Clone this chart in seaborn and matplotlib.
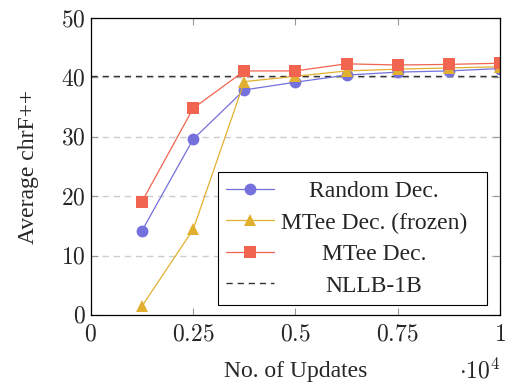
import pandas as pd
import matplotlib.pyplot as plt
import seaborn as sns
from matplotlib.lines import Line2D

updates = [0.125, 0.25, 0.375, 0.5, 0.625, 0.75, 0.875, 1.0]
random_dec = [14.2, 29.6, 37.9, 39.2, 40.4, 40.9, 41.1, 41.5]
mtee_frozen = [1.5, 14.4, 39.3, 40.2, 41.1, 41.4, 41.6, 41.8]
mtee_dec = [19.1, 34.8, 41.1, 41.1, 42.3, 42.1, 42.2, 42.4]
nllb = 40.2
series_names = ["Random Dec.", "MTee Dec. (frozen)", "MTee Dec."]
baseline_name = "NLLB-1B"

sns.set_style("white")
plt.rcParams['font.family'] = ['Liberation Serif', 'DejaVu Serif']
plt.rcParams['mathtext.fontset'] = 'cm'

df = pd.DataFrame({
    "updates": updates * 3,
    "chrf": random_dec + mtee_frozen + mtee_dec,
    "model": [n for n in series_names for _ in updates],
})

colors = {"Random Dec.": "#7470dc", "MTee Dec. (frozen)": "#e2b030", "MTee Dec.": "#f06450"}
markers = {"Random Dec.": "o", "MTee Dec. (frozen)": "^", "MTee Dec.": "s"}
dash = (0, (4.5, 3.5))

fig = plt.figure(figsize=(5.05, 3.85), dpi=100)
ax = fig.add_axes([0.180, 0.182, 0.810, 0.771])

for y in [10, 20, 30, 40]:
    ax.axhline(y, color="#cccccc", lw=1, ls=dash, zorder=0)

sns.lineplot(data=df, x="updates", y="chrf", hue="model", style="model",
             palette=colors, markers=markers, dashes=False, markersize=8.5,
             markeredgewidth=0, linewidth=0.9, ax=ax, legend=False)
ax.axhline(nllb, color="#333333", lw=1, ls=dash, zorder=1)

handles = [Line2D([], [], color=colors[n], marker=markers[n], markersize=8.5,
                  markeredgewidth=0, lw=0.9) for n in series_names]
handles.append(Line2D([], [], color="#333333", lw=1, ls=dash))
labels = series_names + [baseline_name]
# the hidden labels get extra room on the right, like the reference box
padded = [l + "  " if l == max(labels, key=len) else l for l in labels]
leg = ax.legend(handles, padded, loc="lower right",
                bbox_to_anchor=(0.968, 0.034), fontsize=17, frameon=True,
                fancybox=False, edgecolor="black", framealpha=1,
                handlelength=2.0, handletextpad=0.3, borderpad=0.35,
                borderaxespad=0, labelspacing=0.42)
leg.get_frame().set_linewidth(0.8)

ax.set_xlim(0, 1)
ax.set_ylim(0, 50)
ax.set_xticks([0, 0.25, 0.5, 0.75, 1])
ax.set_xticklabels(["$0$", "$0.25$", "$0.5$", "$0.75$", "$1$"])
ax.set_yticks([0, 10, 20, 30, 40, 50])
ax.set_yticklabels([f"${v}$" for v in [0, 10, 20, 30, 40, 50]])
ax.tick_params(direction="in", length=5, color="#999999", labelsize=17,
               top=True, right=True, left=True, bottom=True, pad=4)
ax.tick_params(axis="x", pad=7)
for s in ax.spines.values():
    s.set_color("black")
    s.set_linewidth(0.9)

ax.set_xlabel("No. of Updates", fontsize=17, labelpad=11)
ax.set_ylabel("Average chrF++", fontsize=17, labelpad=16)
ax.text(1.0, -0.19, r"$\cdot 10^4$", transform=ax.transAxes, fontsize=17,
        ha="right", va="center")

# centre the legend labels in their column
fig.canvas.draw()
r = fig.canvas.get_renderer()
texts = leg.get_texts()
boxes = [t.get_window_extent(r) for t in texts]
x_left = min(b.x0 for b in boxes)
inv = fig.transFigure.inverted()
shown = []
for t, b, lab in zip(texts, boxes, labels):
    t.set_alpha(0)
    fx, fy = inv.transform((0, (b.y0 + b.y1) / 2))
    shown.append(fig.text(0, fy, lab, fontsize=17, ha="center", va="center", zorder=10))
w_max = max(s.get_window_extent(r).width for s in shown)
xc = inv.transform((x_left + w_max / 2, 0))[0]
for s in shown:
    s.set_x(xc)

fig.savefig("out.png", dpi=100)
